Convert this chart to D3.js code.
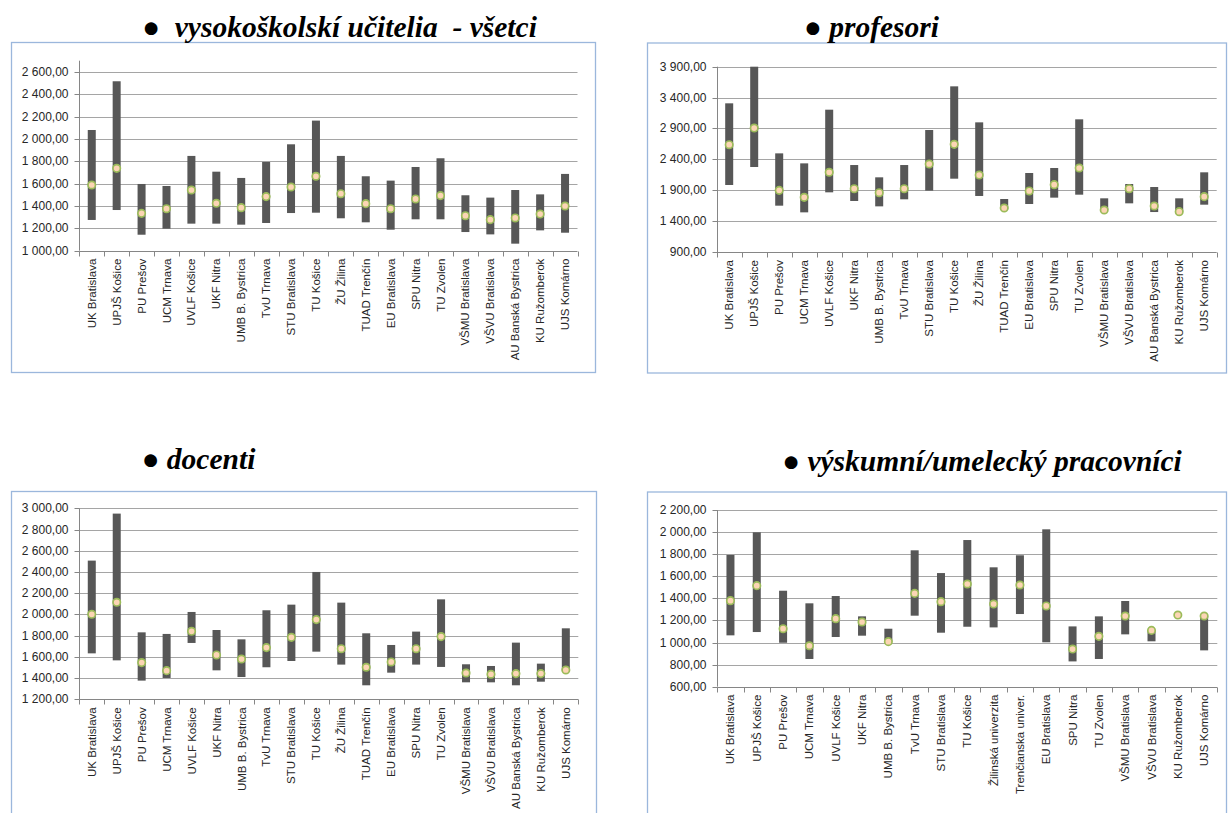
<!DOCTYPE html>
<html>
<head>
<meta charset="utf-8">
<script src="https://cdn.jsdelivr.net/npm/d3@7"></script>
<style>
  html, body { margin: 0; padding: 0; background: #fff; }
  svg { display: block; }
  .title { font-family: "Liberation Serif", "Times New Roman", serif; font-weight: bold; font-style: italic; font-size: 29.5px; fill: #000; white-space: pre; }
  .tick text { font-family: "Liberation Sans", Arial, sans-serif; }
</style>
</head>
<body>
<svg id="chart" width="1232" height="813"></svg>
<script>
// ---------- data ----------
const categories = ["UK Bratislava","UPJŠ Košice","PU Prešov","UCM Trnava","UVLF Košice","UKF Nitra","UMB B. Bystrica","TvU Trnava","STU Bratislava","TU Košice","ŽU Žilina","TUAD Trenčín","EU Bratislava","SPU Nitra","TU Zvolen","VŠMU Bratislava","VŠVU Bratislava","AU Banská Bystrica","KU Ružomberok","UJS Komárno"];
const categoriesResearch = ["UK Bratislava","UPJŠ Košice","PU Prešov","UCM Trnava","UVLF Košice","UKF Nitra","UMB B. Bystrica","TvU Trnava","STU Bratislava","TU Košice","Žilinská univerzita","Trenčianska univer.","EU Bratislava","SPU Nitra","TU Zvolen","VŠMU Bratislava","VŠVU Bratislava","KU Ružomberok","UJS Komárno"];

const titles = ["●  vysokoškolskí učitelia  - všetci", "● profesori", "● docenti", "● výskumní/umelecký pracovníci"];

// vysokoškolskí učitelia - všetci
const allMax = [2080,2516,1597,1579,1848,1707,1651,1794,1952,2164,1848,1666,1627,1749,1827,1496,1475,1543,1504,1687];
const allMin = [1275,1364,1143,1197,1242,1242,1233,1248,1337,1340,1290,1254,1188,1281,1281,1167,1146,1063,1182,1161];
const allAvg = [1588,1737,1334,1376,1543,1424,1385,1484,1570,1666,1510,1421,1376,1463,1493,1313,1278,1293,1328,1400];
const allTicks = [1000,1200,1400,1600,1800,2000,2200,2400,2600];

// profesori
const profMax = [3307,3900,2497,2335,3204,2308,2109,2308,2875,3582,2999,1758,2179,2260,3048,1769,2001,1952,1769,2190];
const profMin = [1985,2276,1650,1542,1866,1726,1639,1753,1893,2087,1807,1591,1677,1780,1828,1580,1688,1547,1553,1666];
const profAvg = [2637,2907,1898,1785,2190,1925,1860,1925,2325,2643,2146,1612,1888,1990,2260,1580,1925,1645,1553,1796];
const profTicks = [900,1400,1900,2400,2900,3400,3900];

// docenti
const docMax = [2507,2950,1831,1816,2023,1853,1765,2039,2092,2400,2111,1822,1712,1838,2142,1530,1514,1734,1536,1869];
const docMin = [1633,1567,1376,1401,1731,1473,1410,1502,1561,1649,1527,1332,1451,1527,1505,1360,1360,1332,1366,1470];
const docAvg = [2001,2114,1546,1470,1841,1618,1580,1687,1784,1951,1677,1502,1552,1677,1791,1448,1436,1442,1442,1476];
const docTicks = [1200,1400,1600,1800,2000,2200,2400,2600,2800,3000];

// výskumní/umelecký pracovníci
const resMax = [1793,1998,1469,1355,1421,1237,1125,1835,1629,1928,1681,1790,2025,1146,1237,1376,1110,1249,1240];
const resMin = [1065,1095,998,851,1050,1062,1008,1243,1089,1143,1137,1258,1002,829,851,1074,1011,1249,929];
const resAvg = [1379,1515,1125,971,1216,1186,1008,1445,1370,1530,1349,1521,1331,941,1056,1240,1110,1249,1240];
const resTicks = [600,800,1000,1200,1400,1600,1800,2000,2200];

// ---------- layout ----------
const panels = [
  { title: titles[0], tx: 339.5, ty: 37, box: [11, 42, 584, 330], x0: 79.3, x1: 577.5, yTop: 60.7, yBot: 250.7,
    domain: [1000, 2700], ticks: allTicks, cats: categories, max: allMax, min: allMin, avg: allAvg },
  { title: titles[1], tx: 871.5, ty: 37, box: [647, 42.5, 579, 330], x0: 716.7, x1: 1216.7, yTop: 66.7, yBot: 252,
    domain: [900, 3900], ticks: profTicks, cats: categories, max: profMax, min: profMin, avg: profAvg },
  { title: titles[2], tx: 198.5, ty: 469, box: [11, 491, 585, 340], x0: 79.3, x1: 578.3, yTop: 508.3, yBot: 699.3,
    domain: [1200, 3000], ticks: docTicks, cats: categories, max: docMax, min: docMin, avg: docAvg },
  { title: titles[3], tx: 982, ty: 471, box: [647, 491.5, 579, 340], x0: 717.3, x1: 1217.3, yTop: 510, yBot: 686.7,
    domain: [600, 2200], ticks: resTicks, cats: categoriesResearch, max: resMax, min: resMin, avg: resAvg }
];

const locale = d3.formatLocale({ decimal: ",", thousands: "\u00a0", grouping: [3], currency: ["", ""] });
const fmt = locale.format(",.2f");

const svg = d3.select("#chart");

panels.forEach(p => {
  const g = svg.append("g");

  // frame
  g.append("rect")
    .attr("x", p.box[0] + 0.5).attr("y", p.box[1] + 0.5)
    .attr("width", p.box[2]).attr("height", p.box[3])
    .attr("fill", "#fff").attr("stroke", "#9bb7dc").attr("stroke-width", 1.3);

  // title
  svg.append("text").attr("class", "title")
    .attr("x", p.tx).attr("y", p.ty).attr("text-anchor", "middle")
    .text(p.title);

  const x = d3.scaleBand().domain(p.cats).range([p.x0, p.x1]).padding(0);
  const y = d3.scaleLinear().domain(p.domain).range([p.yBot, p.yTop]);

  // gridlines
  g.append("g").selectAll("line").data(p.ticks.filter(t => t !== p.domain[0])).join("line")
    .attr("x1", p.x0).attr("x2", p.x1)
    .attr("y1", d => Math.round(y(d)) + 0.5).attr("y2", d => Math.round(y(d)) + 0.5)
    .attr("stroke", "#a5a5a5").attr("stroke-width", 1);

  // y axis
  const ya = g.append("g").attr("transform", `translate(${Math.round(p.x0) + 0.5},0)`)
    .call(d3.axisLeft(y).tickValues(p.ticks).tickSize(5).tickPadding(6).tickFormat(fmt));
  ya.select(".domain").attr("stroke", "#868686").attr("d", `M0,${y(p.domain[1])}V${y(p.domain[0])}`);
  ya.selectAll(".tick line").attr("stroke", "#868686");
  ya.selectAll(".tick text").attr("font-size", 12).attr("fill", "#262626");
  ya.selectAll(".tick").attr("transform", d => `translate(0,${Math.round(y(d)) + 0.5})`);

  // x axis line + boundary ticks
  const yb = Math.round(p.yBot) + 0.5;
  g.append("line").attr("x1", p.x0).attr("x2", p.x1).attr("y1", yb).attr("y2", yb)
    .attr("stroke", "#868686");
  const bounds = p.cats.map(c => x(c)).concat([p.x1]);
  g.append("g").selectAll("line").data(bounds).join("line")
    .attr("x1", d => Math.round(d) + 0.5).attr("x2", d => Math.round(d) + 0.5)
    .attr("y1", yb).attr("y2", yb + 5).attr("stroke", "#868686");

  // category labels
  g.append("g").selectAll("text").data(p.cats).join("text")
    .attr("transform", d => `translate(${x(d) + x.bandwidth() / 2},${p.yBot + 8}) rotate(-90)`)
    .attr("text-anchor", "end").attr("dy", "0.35em")
    .attr("font-family", "'Liberation Sans', Arial, sans-serif")
    .attr("font-size", 11.5).attr("fill", "#262626")
    .text(d => d);

  // range bars
  const bw = 8;
  g.append("g").selectAll("rect").data(p.cats).join("rect")
    .attr("x", (d) => x(d) + x.bandwidth() / 2 - bw / 2)
    .attr("y", (d, i) => y(p.max[i]))
    .attr("width", bw)
    .attr("height", (d, i) => Math.max(0, y(p.min[i]) - y(p.max[i])))
    .attr("fill", "#575757");

  // average markers
  g.append("g").selectAll("circle").data(p.cats).join("circle")
    .attr("cx", d => x(d) + x.bandwidth() / 2)
    .attr("cy", (d, i) => y(p.avg[i]))
    .attr("r", 3.7)
    .attr("fill", "#fcd5b4")
    .attr("stroke", "#9bbb59")
    .attr("stroke-width", 1.7);
});
</script>
</body>
</html>
